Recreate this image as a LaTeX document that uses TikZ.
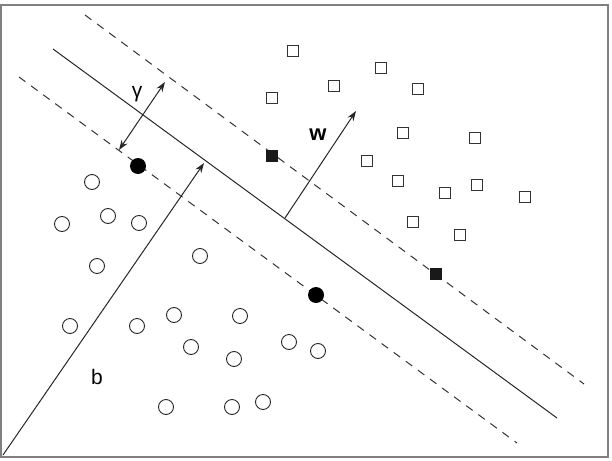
\documentclass[tikz,border=0pt]{standalone}
\usepackage{fontspec}
\setmainfont{Liberation Sans}
\usetikzlibrary{arrows.meta}
\begin{document}
\begin{tikzpicture}[x=1pt,y=-1pt,
 posbox/.style={rectangle, draw=black!80, line width=1.1pt, minimum size=10.5pt, inner sep=0pt},
 posboxsv/.style={rectangle, fill=black!90, draw=black!90, minimum size=11pt, inner sep=0pt},
 negdot/.style={circle, draw=black!85, line width=0.9pt, minimum size=15pt, inner sep=0pt},
 negdotsv/.style={circle, fill=black, minimum size=16pt, inner sep=0pt},
 hyp/.style={line width=1pt, draw=black!85},
 marginline/.style={line width=1pt, draw=black!80, dash pattern=on 8pt off 7pt},
 vec/.style={line width=1pt, draw=black!85, -{Stealth[length=10pt,width=7pt]}},
 dvec/.style={line width=1pt, draw=black!85, {Stealth[length=10pt,width=7pt]}-{Stealth[length=10pt,width=7pt]}},
 lab/.style={font=\fontsize{21}{21}\selectfont, inner sep=0pt},
 framebox/.style={draw=gray, line width=2pt}]

\useasboundingbox (0,0) rectangle (612,460);
\draw[framebox] (1,5) rectangle (608,457);

% hyperplane and margins
\coordinate (h1) at (53,49);  \coordinate (h2) at (557,418);
\coordinate (u1) at (85,15);  \coordinate (u2) at (584,384);
\coordinate (l1) at (19,77);  \coordinate (l2) at (517,443);
\draw[hyp] (h1) -- (h2);
\draw[marginline] (u1) -- (u2);
\draw[marginline] (l1) -- (l2);

% vectors
\coordinate (g1) at (119,150); \coordinate (g2) at (165,82);
\draw[dvec] (g1) -- (g2);
\coordinate (b0) at (3,455); \coordinate (bt) at (204,163);
\draw[vec] (b0) -- (bt);
\coordinate (w0) at (285,218); \coordinate (wt) at (356,111);
\draw[vec] (w0) -- (wt);

% labels
\node[lab] (gam) at (137,94) {γ};
\node[lab, font=\fontsize{22}{22}\selectfont] (wl) at (318,135) {\textbf{w}};
\node[lab] (bl) at (97,377) {b};

% negative class
\foreach \x/\y [count=\i] in {92/182, 108/216, 62/224, 139/223, 97/266, 200/256,
  70/326, 137/326, 174/315, 240/316, 191/347, 234/359, 289/342, 318/351,
  166/407, 232/407, 263/402}
  \node[negdot] (n\i) at (\x,\y) {};

% positive class
\foreach \x/\y [count=\i] in {293/51, 381/68, 334/86, 272/98, 418/89, 403/133,
  475/138, 367/161, 398/181, 445/193, 477/185, 525/197, 413/222, 460/235}
  \node[posbox] (p\i) at (\x,\y) {};

% support vectors
\node[negdotsv] (sn1) at (138,166) {};
\node[negdotsv] (sn2) at (316,295) {};
\node[posboxsv] (sp1) at (272,156) {};
\node[posboxsv] (sp2) at (436,274) {};
\end{tikzpicture}
\end{document}
